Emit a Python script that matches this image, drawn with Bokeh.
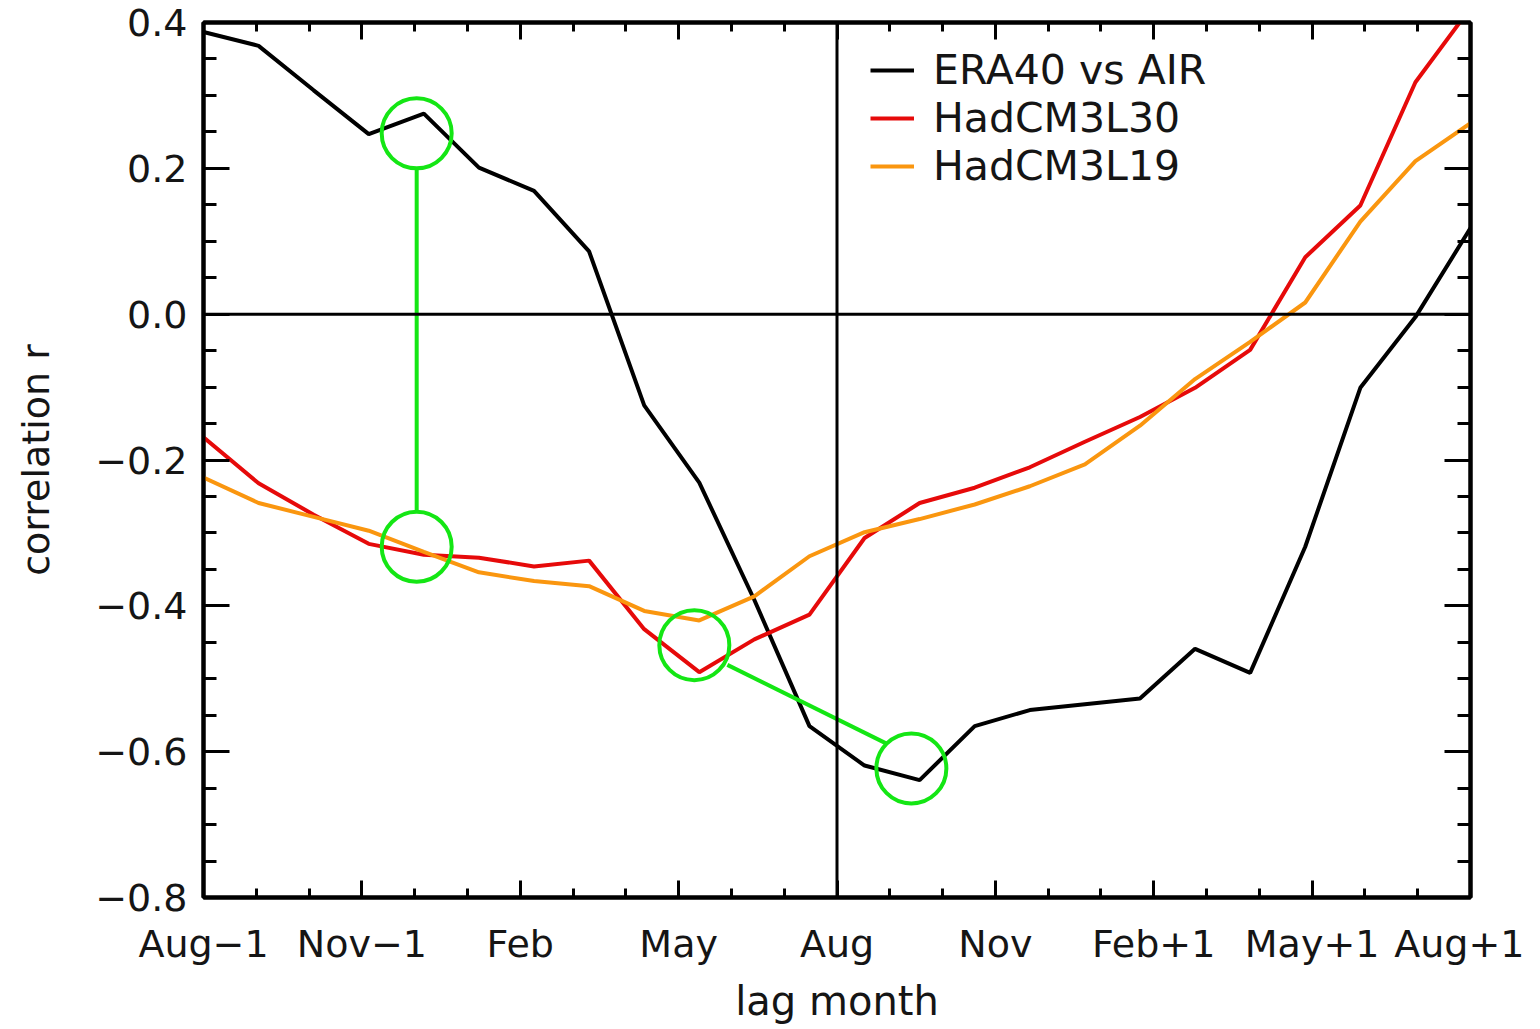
from bokeh.plotting import figure
from bokeh.models import (Span, Legend, LegendItem, LinearAxis, FixedTicker, Range1d)
from bokeh.embed import file_html
from bokeh.resources import INLINE

# ---- data -------------------------------------------------------------
lag_index = list(range(24))  # monthly lags Aug-1 ... Jul+1 (plotted on 0..23)

era40_vs_air = [0.387, 0.368, 0.307, 0.247, 0.275, 0.201, 0.169, 0.086,
                -0.125, -0.231, -0.392, -0.565, -0.619, -0.639, -0.565, -0.543,
                -0.535, -0.527, -0.459, -0.492, -0.319, -0.101, -0.004, 0.118]

hadcm3l30 = [-0.169, -0.232, -0.275, -0.315, -0.330, -0.334, -0.346, -0.338,
             -0.432, -0.491, -0.446, -0.412, -0.307, -0.259, -0.238, -0.210,
             -0.175, -0.141, -0.101, -0.049, 0.078, 0.149, 0.318, 0.420]

hadcm3l19 = [-0.224, -0.259, -0.278, -0.297, -0.326, -0.354, -0.366, -0.373,
             -0.407, -0.420, -0.387, -0.332, -0.299, -0.281, -0.261, -0.236,
             -0.206, -0.153, -0.089, -0.038, 0.016, 0.127, 0.210, 0.262]

x_tick_labels = ["Aug\u22121", "Nov\u22121", "Feb", "May", "Aug",
                 "Nov", "Feb+1", "May+1", "Aug+1"]
y_ticks = [-0.8, -0.6, -0.4, -0.2, 0.0, 0.2, 0.4]
y_tick_labels = ["\u22120.8", "\u22120.6", "\u22120.4", "\u22120.2", "0.0", "0.2", "0.4"]

# highlight annotations (green circles and connectors)
circle_x = [3.87, 3.87, 8.91, 12.85]
circle_y = [0.248, -0.319, -0.454, -0.623]
conn_x0 = [3.87, 9.51]
conn_y0 = [0.201, -0.481]
conn_x1 = [3.87, 12.40]
conn_y1 = [-0.272, -0.589]

# ---- figure -------------------------------------------------------------
X_MAX = 23.0
x_major = [k * X_MAX / 8 for k in range(9)]
x_minor = [j * X_MAX / 24 for j in range(25)]
y_minor = [round(-0.8 + 0.05 * j, 2) for j in range(25)]

FONT = "DejaVu Sans"
FS = "38px"
TXT = "#151515"

p = figure(width=1524, height=1028, output_backend="svg", toolbar_location=None,
           x_range=Range1d(0, X_MAX), y_range=Range1d(-0.8, 0.4),
           min_border_left=203, min_border_right=54, min_border_top=22,
           min_border_bottom=131, background_fill_color="white",
           border_fill_color="white", outline_line_color="black",
           outline_line_width=4)
p.grid.visible = False

xt = FixedTicker(ticks=x_major, minor_ticks=x_minor)
yt = FixedTicker(ticks=y_ticks, minor_ticks=y_minor)

xa = p.xaxis[0]
xa.ticker = xt
xa.major_label_overrides = {t: lab for t, lab in zip(x_major, x_tick_labels)}
ya = p.yaxis[0]
ya.ticker = yt
ya.major_label_overrides = {t: lab for t, lab in zip(y_ticks, y_tick_labels)}

for ax in (xa, ya):
    ax.axis_line_width = 4
    ax.major_tick_line_width = 3
    ax.minor_tick_line_width = 3
    ax.major_tick_out = 0
    ax.minor_tick_out = 0
    ax.major_label_text_font = FONT
    ax.major_label_text_font_size = FS
    ax.major_label_text_color = TXT
    ax.axis_label_text_font = FONT
    ax.axis_label_text_font_size = FS
    ax.axis_label_text_font_style = "normal"
    ax.axis_label_text_color = TXT

xa.major_tick_in = 17
xa.minor_tick_in = 9
xa.major_label_standoff = 24
xa.axis_label = "lag month"
xa.axis_label_text_font_size = "40px"
xa.axis_label_standoff = 9

ya.major_tick_in = 26
ya.minor_tick_in = 13
ya.major_label_standoff = 16
ya.axis_label = "correlation r"
ya.axis_label_standoff = 34

# mirrored axes (top / right), ticks only
top = LinearAxis(ticker=xt, major_label_overrides={t: "" for t in x_major},
                 major_label_standoff=0,
                 axis_line_width=4, major_tick_line_width=3, minor_tick_line_width=3,
                 major_tick_in=17, minor_tick_in=9, major_tick_out=0, minor_tick_out=0)
right = LinearAxis(ticker=yt, major_label_overrides={t: "" for t in y_ticks},
                   major_label_standoff=0,
                   axis_line_width=4, major_tick_line_width=3, minor_tick_line_width=3,
                   major_tick_in=26, minor_tick_in=13, major_tick_out=0, minor_tick_out=0)
p.add_layout(top, "above")
p.add_layout(right, "right")

# reference lines
p.add_layout(Span(location=0.0, dimension="width", line_color="black", line_width=3))
p.add_layout(Span(location=X_MAX / 2, dimension="height", line_color="black", line_width=3))

# series
r_era = p.line(lag_index, era40_vs_air, line_color="black", line_width=4)
r_l30 = p.line(lag_index, hadcm3l30, line_color="#e60a0a", line_width=4)
r_l19 = p.line(lag_index, hadcm3l19, line_color="#fa960f", line_width=4)

# annotations
p.segment(conn_x0, conn_y0, conn_x1, conn_y1, line_color="#14e614", line_width=4)
p.scatter(circle_x, circle_y, marker="circle", size=70, fill_color=None,
          line_color="#14e614", line_width=4)

legend = Legend(items=[LegendItem(label="ERA40 vs AIR", renderers=[r_era]),
                       LegendItem(label="HadCM3L30", renderers=[r_l30]),
                       LegendItem(label="HadCM3L19", renderers=[r_l19])],
                location=(667, 707), border_line_color=None,
                background_fill_alpha=0, padding=0, spacing=0,
                label_height=48, glyph_height=48, glyph_width=44,
                label_standoff=19, label_text_font=FONT,
                label_text_font_size="41px", label_text_color=TXT)
p.add_layout(legend, "center")

open("out.html", "w").write(file_html(p, INLINE))
